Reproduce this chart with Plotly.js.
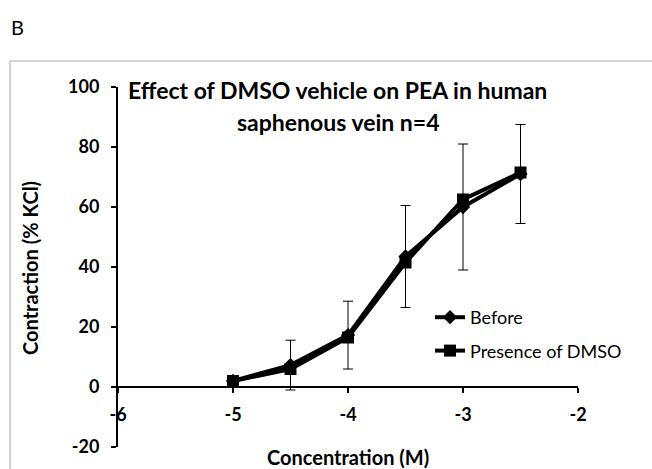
<!DOCTYPE html>
<html>
<head>
<meta charset="utf-8">
<script src="https://cdn.plot.ly/plotly-3.0.1.min.js"></script>
<style>
  html, body { margin: 0; padding: 0; background: #fff; }
  #chart { width: 652px; height: 469px; }
</style>
</head>
<body>
<div id="chart"></div>
<script>
// Data
const concentration = [-5, -4.5, -4, -3.5, -3, -2.5];
const before = [2, 7.3, 17.3, 43.5, 60, 71];
const beforeErr = [0.5, 8.3, 11.3, 17, 21, 16.5];
const dmso = [2, 6, 16.5, 41.5, 62.5, 71.5];
const xTicks = [-6, -5, -4, -3, -2];
const yTicks = [-20, 0, 20, 40, 60, 80, 100];
const seriesNames = ['Before', 'Presence of DMSO'];
const chartTitle = ['Effect of DMSO vehicle on PEA in human', 'saphenous vein n=4'];
const xTitle = 'Concentration (M)';
const yTitle = 'Contraction (% KCl)';
const panelLabel = 'B';

const FONT = 'Lato, "Open Sans", sans-serif';
const yRange = [-20, 100];
const xRange = [-6, -2];

const traces = [
  {
    x: concentration, y: before, name: seriesNames[0], type: 'scatter', mode: 'lines+markers',
    line: { color: '#000', width: 4 },
    marker: { symbol: 'diamond', size: 11, color: '#000' },
    error_y: { type: 'data', array: beforeErr, visible: true, color: '#000', thickness: 1, width: 5 },
    legendgroup: 'a'
  },
  {
    x: concentration, y: dmso, name: seriesNames[1], type: 'scatter', mode: 'lines+markers',
    line: { color: '#000', width: 4 },
    marker: { symbol: 'square', size: 12, color: '#000' },
    legendgroup: 'b'
  }
];

const L = 118, R = 652 - 578, T = 87, B = 469 - 447;
const pw = 652 - L - R, ph = 469 - T - B;
const px = v => (v - L) / pw;
const py = v => (469 - B - v) / ph;

const layout = {
  width: 652, height: 469,
  margin: { l: L, r: R, t: T, b: B, pad: 0 },
  paper_bgcolor: '#fff', plot_bgcolor: 'rgba(0,0,0,0)',
  font: { family: FONT, color: '#000' },
  showlegend: true,
  legend: {
    x: px(430), y: py(299), xanchor: 'left', yanchor: 'top',
    bgcolor: 'rgba(0,0,0,0)', font: { family: FONT, size: 18, color: '#000' },
    traceorder: 'grouped', tracegroupgap: 7, itemwidth: 30
  },
  xaxis: {
    range: xRange, tickvals: xTicks, ticktext: xTicks.map(String),
    anchor: 'free', position: (0 - yRange[0]) / (yRange[1] - yRange[0]),
    showline: true, linecolor: '#000', linewidth: 2,
    ticks: 'outside', ticklen: 5, tickwidth: 2, tickcolor: '#000',
    showgrid: false, zeroline: false, ticklabelstandoff: 6,
    tickfont: { family: FONT, size: 18, color: '#000', weight: 'bold' }
  },
  yaxis: {
    range: yRange, tickvals: yTicks, ticktext: yTicks.map(String),
    showline: true, linecolor: '#000', linewidth: 2,
    ticks: 'outside', ticklen: 5, tickwidth: 2, tickcolor: '#000',
    showgrid: false, zeroline: false, ticklabelstandoff: 8,
    tickfont: { family: FONT, size: 18, color: '#000', weight: 'bold' }
  },
  shapes: [
    { type: 'rect', xref: 'paper', yref: 'paper', x0: px(10), x1: px(700), y0: py(520), y1: py(61),
      line: { color: '#c8c8c8', width: 1.5 }, fillcolor: 'rgba(0,0,0,0)', layer: 'below' }
  ],
  annotations: [
    { text: panelLabel, xref: 'paper', yref: 'paper', x: px(17), y: py(27), xanchor: 'center', yanchor: 'middle',
      showarrow: false, font: { family: FONT, size: 20, color: '#000' } },
    { text: '<b>' + chartTitle[0] + '</b>', xref: 'paper', yref: 'paper', x: px(337), y: py(90), xanchor: 'center', yanchor: 'middle',
      showarrow: false, font: { family: FONT, size: 23, color: '#000' } },
    { text: '<b>' + chartTitle[1] + '</b>', xref: 'paper', yref: 'paper', x: px(338), y: py(122), xanchor: 'center', yanchor: 'middle',
      showarrow: false, font: { family: FONT, size: 23, color: '#000' } },
    { text: '<b>' + xTitle + '</b>', xref: 'paper', yref: 'paper', x: px(348), y: py(457), xanchor: 'center', yanchor: 'middle',
      showarrow: false, font: { family: FONT, size: 20, color: '#000' } },
    { text: '<b>' + yTitle + '</b>', xref: 'paper', yref: 'paper', x: px(30), y: py(268), xanchor: 'center', yanchor: 'middle',
      textangle: -90, showarrow: false, font: { family: FONT, size: 20, color: '#000' } }
  ]
};

Plotly.newPlot('chart', traces, layout, { displayModeBar: false, staticPlot: true });
</script>
</body>
</html>
